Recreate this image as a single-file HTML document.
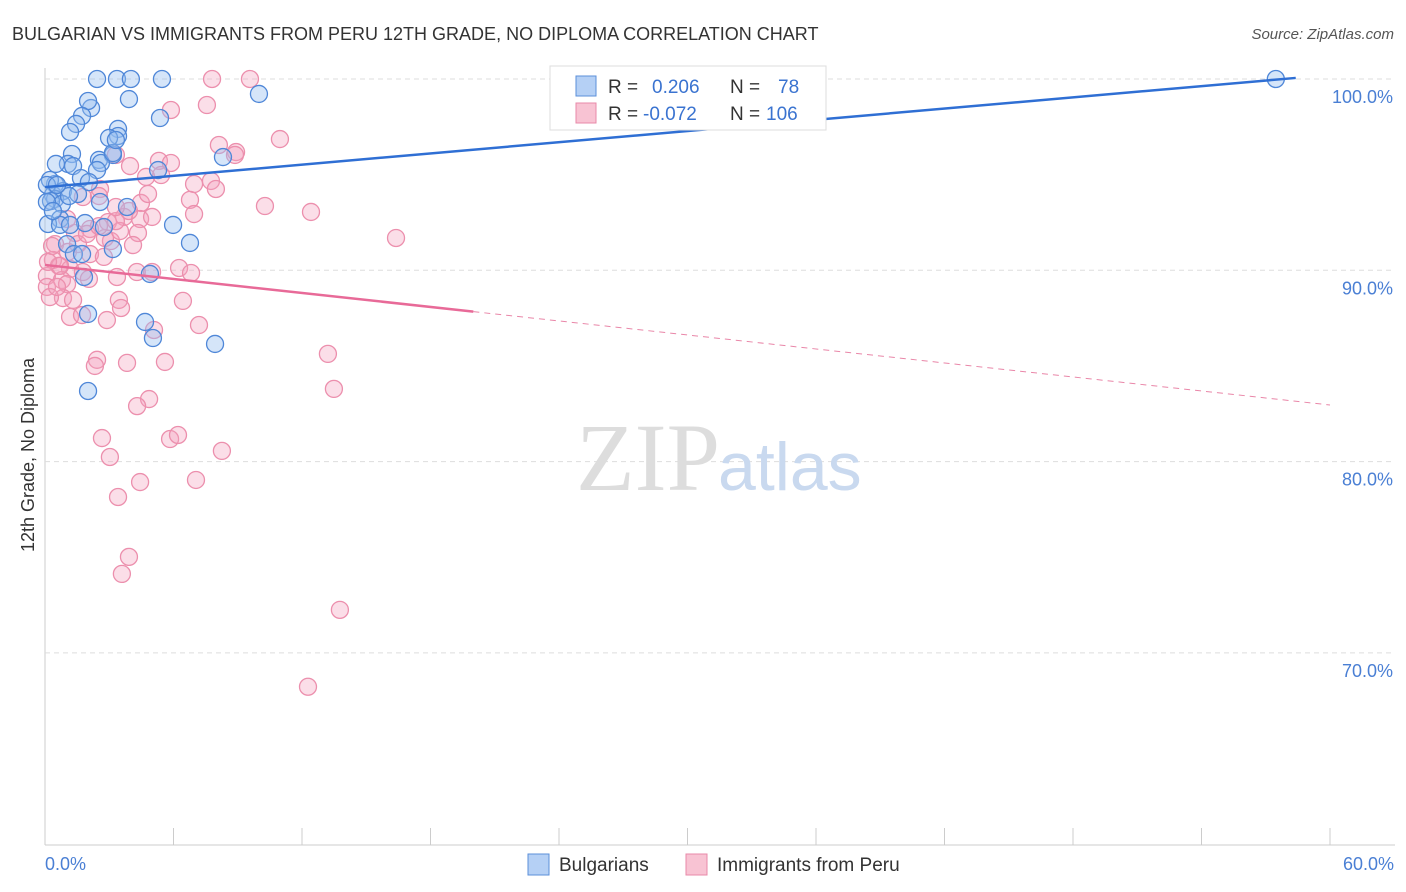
<!DOCTYPE html>
<html><head><meta charset="utf-8"><style>
body{margin:0;background:#fff;font-family:"Liberation Sans",sans-serif;}
svg{display:block}
</style></head><body>
<svg width="1406" height="892" xmlns="http://www.w3.org/2000/svg">
<text x="12" y="40" font-size="18" fill="#333">BULGARIAN VS IMMIGRANTS FROM PERU 12TH GRADE, NO DIPLOMA CORRELATION CHART</text>
<text x="1394" y="39" font-size="15" fill="#555" text-anchor="end" font-style="italic">Source: ZipAtlas.com</text>
<g id="grid"></g>
<text x="720" y="490" font-size="96" fill="#ddd" text-anchor="end" font-family="Liberation Serif">ZIP</text>
<text x="718" y="490" font-size="68" fill="#c9d9ef">atlas</text>
<g id="pts"></g>
<g id="lines"></g>
<text transform="translate(34,455) rotate(-90)" font-size="18" fill="#333" text-anchor="middle">12th Grade, No Diploma</text>
<text x="45" y="870" font-size="18" fill="#4a7fd4">0.0%</text>
<text x="1394" y="870" font-size="18" fill="#4a7fd4" text-anchor="end">60.0%</text>
<g>
<rect x="550" y="66" width="276" height="64" fill="#fff" stroke="#ddd"/>
<rect x="576" y="76" width="20" height="20" fill="#b5d0f5" stroke="#5b8fd9"/>
<rect x="576" y="103" width="20" height="20" fill="#f8c3d3" stroke="#e88aa8"/>
<text x="608" y="93" font-size="19" fill="#333">R = <tspan fill="#3a73d0" x="652">0.206</tspan><tspan x="730" fill="#333">N =</tspan><tspan x="778" fill="#3a73d0">78</tspan></text>
<text x="608" y="120" font-size="19" fill="#333">R = <tspan fill="#3a73d0" x="643">-0.072</tspan><tspan x="730" fill="#333">N =</tspan><tspan x="766" fill="#3a73d0">106</tspan></text>
</g>
<g>
<rect x="528" y="854" width="21" height="21" fill="#b5d0f5" stroke="#5b8fd9"/>
<text x="559" y="871" font-size="19" fill="#333">Bulgarians</text>
<rect x="686" y="854" width="21" height="21" fill="#f8c3d3" stroke="#e88aa8"/>
<text x="717" y="871" font-size="19" fill="#333">Immigrants from Peru</text>
</g>
</svg>
<script>
const yTicks=[100,90,80,70];
const yTickLabels=["100.0%","90.0%","80.0%","70.0%"];
const xTicks=[0,6,12,18,24,30,36,42,48,54,60];
const blueX=[2.43,3.36,4.01,5.46,57.47,3.92,9.99,2.15,2.01,5.37,1.73,1.45,1.17,3.41,3.41,2.99,1.26,3.17,2.52,1.07,0.51,1.31,2.61,5.28,2.43,1.68,2.05,0.47,0.37,0.84,1.54,0.47,0.28,0.79,1.12,0.09,2.57,3.83,0.7,0.14,0.7,1.87,2.75,5.98,1.03,1.35,1.73,3.17,6.77,4.9,1.82,2.01,4.67,5.04,7.94,2.01,8.31,0.37,1.17,0.23,0.09,0.56,3.17,3.31];
const blueY=[100,100,100,100,100,98.95,99.22,98.48,98.85,97.96,98.07,97.65,97.23,97.39,97.02,96.92,96.08,96.03,95.77,95.56,95.56,95.45,95.61,95.24,95.24,94.82,94.61,94.51,93.94,94.14,93.99,93.73,93.62,93.47,93.88,93.57,93.57,93.31,92.68,92.42,92.37,92.47,92.26,92.37,91.37,90.85,90.85,91.11,91.43,89.81,89.65,87.72,87.3,86.46,86.15,83.69,95.92,93.1,92.37,94.72,94.46,94.46,96.13,96.81];
const pinkX=[7.8,9.57,5.88,7.56,10.97,8.12,8.92,8.87,3.31,5.32,5.88,3.97,5.42,6.96,7.75,7.98,4.72,2.57,2.52,6.77,4.48,10.27,12.42,3.69,4.44,6.96,2.94,2.1,1.4,3.08,4.34,3.5,4.11,2.8,16.39,0.47,2.1,2.75,0.37,0.65,1.17,1.77,4.29,6.26,6.82,5,0.09,0.79,2.05,3.36,1.03,0.84,1.31,3.45,3.55,6.44,5.09,1.17,1.73,2.89,7.19,2.43,3.83,5.6,2.33,13.21,13.49,4.86,4.3,2.66,5.84,6.21,3.03,8.26,4.44,7.05,3.41,3.92,3.59,13.77,12.28,0.09,0.23,0.56,0.7,0.33,1.07,0.14,1.54,1.96,2.52,3.31,3.92,1.77,3.31,4.81,5,1.03];
const pinkY=[100,100,98.38,98.64,96.86,96.55,96.18,96.03,96.03,95.72,95.61,95.45,94.98,94.51,94.67,94.25,94.88,94.25,93.88,93.68,93.52,93.36,93.05,92.79,92.68,92.94,92.52,92.16,91.95,91.53,91.95,92.05,91.32,91.69,91.69,91.37,90.85,90.7,90.54,90.23,90.07,89.91,89.91,90.12,89.86,89.91,89.7,89.49,89.55,89.65,89.28,88.55,88.45,88.45,88.03,88.4,86.88,87.56,87.66,87.4,87.14,85.32,85.16,85.21,85,85.63,83.8,83.27,82.9,81.23,81.18,81.39,80.24,80.56,78.93,79.04,78.15,75.02,74.13,72.25,68.23,89.13,88.6,89.13,90.23,91.27,90.96,90.44,91.37,91.9,92.31,92.57,93.1,93.83,93.31,93.99,92.79,92.68];
const blueLine=[94.35,0.0977]; // intercept, slope
const pinkLine=[90.28,-0.122];
const pinkSolidEnd=20;
const NS="http://www.w3.org/2000/svg";
const X=v=>45+v*1285/60;
const Y=v=>79+(100-v)*19.13;
const grid=document.getElementById('grid');
function mk(t,a,p){const e=document.createElementNS(NS,t);for(const k in a)e.setAttribute(k,a[k]);p.appendChild(e);return e;}
let ax=mk('line',{x1:45,y1:68,x2:45,y2:845,stroke:'#ccc'},grid);


let bx=mk('line',{x1:45,y1:845,x2:1395,y2:845,stroke:'#ccc'},grid);


yTicks.forEach((t,i)=>{
 let g=mk('line',{x1:45,x2:1395,y1:Y(t),y2:Y(t),stroke:'#ddd','stroke-dasharray':'5,4'},grid);
 
 
 let l=mk('text',{x:1393,y:Y(t)+24,'font-size':18,fill:'#4a7fd4','text-anchor':'end'},grid);
 l.textContent=yTickLabels[i];
 
 
});
xTicks.forEach(t=>{
 let g=mk('line',{x1:X(t),x2:X(t),y1:828,y2:845,stroke:'#ccc'},grid);
 
 
});
const pts=document.getElementById('pts');
pinkX.forEach((x,i)=>{
 let c=mk('circle',{cx:X(x),cy:Y(pinkY[i]),r:8.5,fill:'rgba(244,160,188,0.35)',stroke:'#ec8fad','stroke-width':1.3},pts);
 
 
});
blueX.forEach((x,i)=>{
 let c=mk('circle',{cx:X(x),cy:Y(blueY[i]),r:8.5,fill:'rgba(150,190,240,0.4)',stroke:'#4f87d8','stroke-width':1.3},pts);
 
 
});
const ln=document.getElementById('lines');
let b=mk('line',{x1:X(0),y1:Y(blueLine[0]),x2:X(58.4),y2:Y(blueLine[0]+blueLine[1]*58.4),stroke:'#2f6fd4','stroke-width':2.5},ln);


let p=mk('line',{x1:X(0),y1:Y(pinkLine[0]),x2:X(pinkSolidEnd),y2:Y(pinkLine[0]+pinkLine[1]*pinkSolidEnd),stroke:'#e86a98','stroke-width':2.5},ln);


let pd=mk('line',{x1:X(pinkSolidEnd),y1:Y(pinkLine[0]+pinkLine[1]*pinkSolidEnd),x2:X(60),y2:Y(pinkLine[0]+pinkLine[1]*60),stroke:'#e986a8','stroke-width':1,'stroke-dasharray':'6,5'},ln);


</script>
</body></html>
